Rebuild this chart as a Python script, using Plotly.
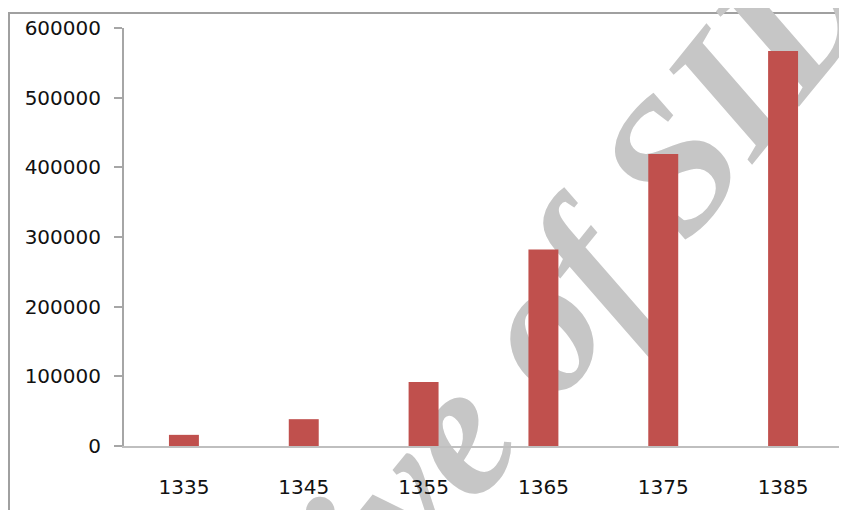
import plotly.graph_objects as go

years = ["1335", "1345", "1355", "1365", "1375", "1385"]
values = [16000, 38500, 92000, 282000, 419000, 567000]
y_ticks = [0, 100000, 200000, 300000, 400000, 500000, 600000]

# page is offset by the default 8px body margin
OFF = 8
W, H = 847 - OFF, 510 - OFF
L, R, T, B = 124 - OFF, 4, 28 - OFF, 64
pw, ph = W - L - R, H - T - B

def px_x(p):  # page pixel -> paper
    return (p - OFF - L) / pw

def px_y(p):
    return (H - B - (p - OFF)) / ph

fig = go.Figure()
fig.add_trace(go.Bar(
    x=years, y=values,
    marker=dict(color="#c0504d", line=dict(width=0)),
    width=0.25,
))

cx, cy = 448, 405
shapes = [
    dict(type="rect", xref="paper", yref="paper",
         x0=px_x(9), x1=px_x(900), y0=px_y(560), y1=px_y(13),
         line=dict(color="#a0a0a0", width=2), fillcolor="rgba(0,0,0,0)", layer="below"),
    dict(type="rect", xref="paper", yref="paper",
         x0=px_x(cx - 100), x1=px_x(cx + 100), y0=px_y(cy + 100), y1=px_y(cy - 100),
         line=dict(width=0), fillcolor="rgba(0,0,0,0)", layer="below",
         label=dict(text="Archive of SID", textangle=-51, textposition="middle center",
                    font=dict(family="Liberation Serif", size=190, color="#c6c6c6",
                              style="italic", weight="bold"))),
]

fig.update_layout(
    width=W, height=H,
    margin=dict(l=L, r=R, t=T, b=B),
    paper_bgcolor="white",
    plot_bgcolor="rgba(0,0,0,0)",
    showlegend=False,
    shapes=shapes,
    font=dict(family="DejaVu Sans", size=20, color="#111111"),
    xaxis=dict(
        type="category", showline=True, linecolor="#bfbfbf", linewidth=2,
        showgrid=False, ticks="", ticklabelstandoff=22, zeroline=False,
    ),
    yaxis=dict(
        range=[0, 600000], tickvals=y_ticks, ticktext=[str(v) for v in y_ticks],
        showline=True, linecolor="#a6a6a6", linewidth=2, showgrid=False,
        ticks="outside", ticklen=8, tickcolor="#a6a6a6", tickwidth=2,
        ticklabelstandoff=9, zeroline=False,
    ),
)

fig.write_html("out.html")
